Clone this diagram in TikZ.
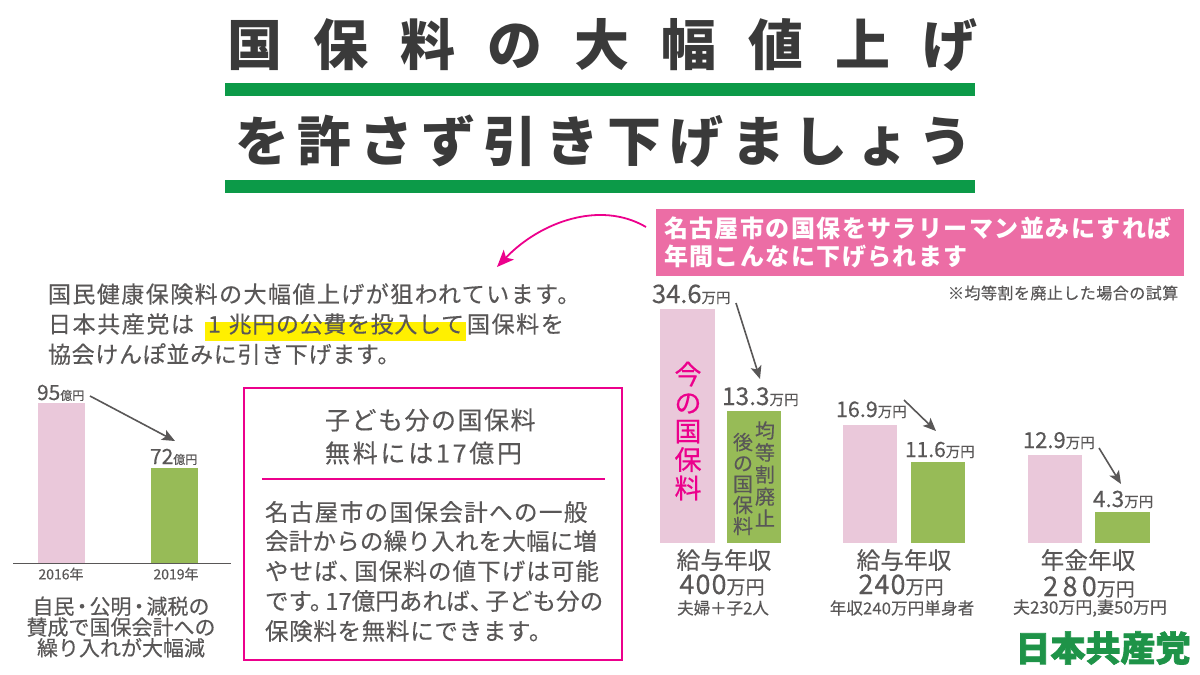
\documentclass[tikz,border=0pt]{standalone}
\usepackage{fontspec}
\usetikzlibrary{arrows.meta}
\setmainfont{Noto Sans CJK JP}[FakeBold=0.35,BoldFeatures={FakeBold=0}]
\newfontfamily\fatfont{Noto Sans CJK JP}[FakeBold=2]
\newcommand\fs[1]{\fontsize{#1}{#1}\selectfont}
\newcommand\ls[1]{\addfontfeatures{LetterSpace=#1}}
\newcommand\pk{\hspace{-8pt}}
\newcommand\dotk{\hspace{-3pt}・\hspace{-3pt}}
\definecolor{ink}{HTML}{595757}
\definecolor{titleink}{HTML}{3A3A3A}
\definecolor{jcpgreen}{HTML}{0C9A48}
\definecolor{logogreen}{HTML}{1E9348}
\definecolor{band}{HTML}{EC6DA5}
\definecolor{hotpink}{HTML}{EC008C}
\definecolor{barpink}{HTML}{EAC8DA}
\definecolor{bargreen}{HTML}{97BB57}
\definecolor{hilite}{HTML}{FFF000}
\tikzset{
  txt/.style={inner sep=0pt,outer sep=0pt,text=ink,anchor=west},
  ctr/.style={inner sep=0pt,outer sep=0pt,text=ink,anchor=center},
  val/.style={inner sep=0pt,outer sep=0pt,text=ink,anchor=base west},
  pinkbar/.style={fill=barpink,draw=none},
  greenbar/.style={fill=bargreen,draw=none},
  darrow/.style={draw=ink,line width=1.6pt,-{Stealth[length=13pt,width=11pt,inset=3pt]}},
  hotarrow/.style={draw=hotpink,line width=1.8pt,-{Stealth[length=17pt,width=14pt,inset=4pt]}},
}
\begin{document}
\begin{tikzpicture}[x=1pt,y=-1pt]
\useasboundingbox (0,0) rectangle (1200,675);
% title
\node[txt,text=titleink] (t1) at (227,45) {\fs{55}\bfseries\ls{58}国保料の大幅値上げ};
\fill[jcpgreen] (225,83) rectangle (975,96);
\node[txt,text=titleink] (t2) at (235,141) {\fs{54}\bfseries\ls{15}を許さず引き下げましょう};
\fill[jcpgreen] (225,180) rectangle (975,193);
% band
\fill[band] (656,209) rectangle (1184,276);
\node[txt,text=white] (b1) at (664,228) {\fs{24}\bfseries\ls{6}名古屋市の国保をサラリーマン並みにすれば};
\node[txt,text=white] (b2) at (664,256) {\fs{24}\bfseries\ls{6}年間こんなに下げられます};
\node[txt] (note) at (948,293) {\fs{16}\ls{3}※均等割を廃止した場合の試算};
% curved arrow
\coordinate (cs) at (646,227);
\coordinate (ce) at (497,267);
\draw[hotarrow] (cs) .. controls (600,200) and (540,222) .. (ce);
% intro
\fill[hilite] (205,322) rectangle (466,341);
\node[txt] (i1) at (48,294) {\fs{23}\ls{6.3}国民健康保険料の大幅値上げが狙われています。};
\node[txt] (i2a) at (48,324) {\fs{23}\ls{7}日本共産党は};
\node[txt] (i2b) at (208,324) {\fs{23}\ls{3}1\hspace{2pt} 兆円の公費を投入して};
\node[txt] (i2c) at (467,324) {\fs{23}\ls{7}国保料を};
\node[txt] (i3) at (48,354) {\fs{23}\ls{3}協会けんぽ並みに引き下げます。};
% left chart
\fill[pinkbar] (38,403) rectangle (85,563);
\fill[greenbar] (151,468) rectangle (198,563);
\draw[ink,line width=1pt] (13,563) -- (231,563);
\node[val] (v95) at (37,400) {{\fs{21}95}{\fs{12}億円}};
\node[val] (v72) at (150,464) {{\fs{21}72}{\fs{12}億円}};
\node[ctr] (y16) at (61,574) {\fs{14}2016年};
\node[ctr] (y19) at (176,574) {\fs{14}2019年};
\coordinate (a1s) at (90,396);
\coordinate (a1e) at (175,441);
\draw[darrow] (a1s) -- (a1e);
\node[ctr,align=center,font=\fontsize{21}{20.8}\selectfont] (lc) at (121,627) {自民\dotk 公明\dotk 減税の\\賛成で国保会計への\\繰り入れが大幅減};
% box
\draw[hotpink,line width=2.4pt] (244,388) rectangle (622,660);
\node[txt] (h1) at (325,420) {\fs{25}\ls{6}子ども分の国保料};
\node[txt] (h2) at (325,453) {\fs{25}\ls{11}無料には17億円};
\draw[hotpink,line width=2pt] (262,479) -- (605,479);
\node[txt] (p1) at (265,512) {\fs{23.5}\ls{6}名古屋市の国保会計への一般};
\node[txt] (p2) at (265,541) {\fs{23.5}\ls{1}会計からの繰り入れを大幅に増};
\node[txt] (p3) at (265,571) {\fs{23.5}\ls{4.6}やせば、\pk 国保料の値下げは可能};
\node[txt] (p4) at (265,601) {\fs{23.5}\ls{0.5}です。\pk 17億円あれば、\pk 子ども分の};
\node[txt] (p5) at (265,631) {\fs{23.5}\ls{3}保険料を無料にできます。};
% chart 1
\fill[pinkbar] (660,309) rectangle (715,543);
\fill[greenbar] (727,411) rectangle (781,543);
\node[val] (v346) at (652,303) {{\fs{25.5}34.6}{\fs{14.5}万円}};
\node[val] (v133) at (722,405) {{\fs{24.5}13.3}{\fs{14.5}万円}};
\coordinate (a2s) at (736,303);
\coordinate (a2e) at (760,379);
\draw[darrow] (a2s) -- (a2e);
\node[ctr,align=center,text=hotpink,font=\fontsize{27}{28.5}\selectfont] (now) at (688,431) {今\\の\\国\\保\\料};
\node[ctr,align=center,font=\fontsize{20}{22}\selectfont] (g1) at (765,474) {均\\等\\割\\廃\\止};
\node[ctr,align=center,font=\fontsize{20}{21}\selectfont] (g2) at (743,484) {後\\の\\国\\保\\料};
\node[ctr] (c1a) at (724,560) {\fs{23.5}\ls{1}給与年収};
\node[ctr] (c1b) at (722,585) {{\fs{27}\ls{4}400}{\fs{19}万円}};
\node[ctr] (c1c) at (723,608) {\fs{16.5}夫婦＋子2人};
% chart 2
\fill[pinkbar] (843,425) rectangle (897,543);
\fill[greenbar] (911,462) rectangle (965,543);
\node[val] (v169) at (836,417) {{\fs{21.5}16.9}{\fs{14.5}万円}};
\node[val] (v116) at (905,457) {{\fs{21}11.6}{\fs{14.5}万円}};
\coordinate (a3s) at (904,400);
\coordinate (a3e) at (936,431);
\draw[darrow] (a3s) -- (a3e);
\node[ctr] (c2a) at (904,560) {\fs{23.5}\ls{1}給与年収};
\node[ctr] (c2b) at (901,585) {{\fs{27}\ls{4}240}{\fs{19}万円}};
\node[ctr] (c2c) at (902,608) {\fs{16.5}\ls{1}年収240万円単身者};
% chart 3
\fill[pinkbar] (1028,455) rectangle (1082,543);
\fill[greenbar] (1095,512) rectangle (1150,543);
\node[val] (v129) at (1023,448) {{\fs{22}12.9}{\fs{14.5}万円}};
\node[val] (v43) at (1093,507) {{\fs{22.5}4.3}{\fs{14.5}万円}};
\coordinate (a4s) at (1099,448);
\coordinate (a4e) at (1121,484);
\draw[darrow] (a4s) -- (a4e);
\node[ctr] (c3a) at (1088,560) {\fs{23.5}\ls{1}年金年収};
\node[ctr] (c3b) at (1089,587) {{\fs{27}\ls{16}280}{\fs{19}万円}};
\node[ctr] (c3c) at (1090,608) {\fs{17}夫230万円,妻50万円};
% logo
\node[ctr,text=logogreen] (logo) at (1103,648) {\fs{35}\fatfont\bfseries 日本共産党};
\end{tikzpicture}
\end{document}
